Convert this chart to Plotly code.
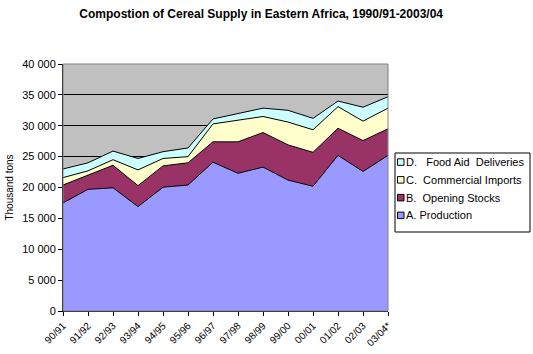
import plotly.graph_objects as go

categories = ["90/91", "91/92", "92/93", "93/94", "94/95", "95/96", "96/97",
              "97/98", "98/99", "99/00", "00/01", "01/02", "02/03", "03/04*"]

production = [17500, 19700, 19950, 16900, 20050, 20400, 24100,
              22300, 23300, 21200, 20200, 25200, 22600, 25200]
opening_stocks = [2900, 2300, 3650, 3400, 3450, 3600, 3300,
                  5100, 5600, 5700, 5500, 4400, 5000, 4300]
commercial_imports = [1200, 700, 900, 2550, 1200, 1000, 2900,
                      3500, 2600, 3700, 3650, 3500, 3150, 3350]
food_aid = [1400, 1300, 1400, 1850, 1100, 1400, 800,
            1100, 1350, 1900, 1850, 900, 2250, 1850]

series_names = ["A. Production", "B.  Opening Stocks",
                "C.  Commercial Imports", "D.   Food Aid  Deliveries"]
series_values = [production, opening_stocks, commercial_imports, food_aid]
series_colors = ["#9999FF", "#993366", "#FFFFCC", "#CCFFFF"]

font = "Liberation Sans, Arial, sans-serif"

W, H = 533, 354
L, R, T, B = 63, 145, 64, 43
pw, ph = W - L - R, H - T - B


def px(x):
    return (x - L) / pw


def py(y):
    return (H - B - y) / ph


fig = go.Figure()
for name, vals, color in zip(series_names, series_values, series_colors):
    fig.add_trace(go.Scatter(
        x=categories, y=vals, name=name, mode="lines",
        stackgroup="one", fillcolor=color,
        line=dict(color="black", width=1), showlegend=False,
    ))

shapes = [dict(type="rect", xref="paper", yref="paper", x0=0, x1=1, y0=0, y1=1,
               line=dict(color="#808080", width=1), layer="above")]
annotations = []

# custom legend box (Excel style)
shapes.append(dict(type="rect", xref="paper", yref="paper",
                   x0=px(395), x1=px(530), y0=py(232), y1=py(153),
                   line=dict(color="black", width=1), fillcolor="white", layer="above"))
item_y = [215.3, 197.6, 179.8, 162.0]  # A, B, C, D centres
for name, color, yc in zip(series_names, series_colors, item_y):
    shapes.append(dict(type="rect", xref="paper", yref="paper",
                       x0=px(397.5), x1=px(404), y0=py(yc + 3.3), y1=py(yc - 3.2),
                       line=dict(color="black", width=1), fillcolor=color, layer="above"))
    annotations.append(dict(text=name, xref="paper", yref="paper",
                            x=px(404.5), y=py(yc), xanchor="left", yanchor="middle",
                            showarrow=False, font=dict(family=font, size=11, color="black")))

fig.update_layout(
    width=W, height=H,
    margin=dict(l=L, r=R, t=T, b=B, autoexpand=False),
    paper_bgcolor="white",
    plot_bgcolor="#C0C0C0",
    separators=". ",
    title=dict(text="<b>Compostion of Cereal Supply in Eastern Africa, 1990/91-2003/04</b>",
               x=0.49, xanchor="center", y=0.962, yanchor="middle",
               font=dict(family=font, size=12, color="black")),
    font=dict(family=font, size=11, color="black"),
    showlegend=False,
    shapes=shapes,
    annotations=annotations,
)

fig.update_xaxes(
    type="category", range=[0, len(categories) - 1], automargin=False,
    showgrid=False, zeroline=False,
    showline=True, linecolor="black", linewidth=1,
    ticks="outside", ticklen=4, tickcolor="black",
    tickangle=-45, tickfont=dict(family=font, size=10),
)
fig.update_yaxes(
    range=[0, 40000], dtick=5000, tickformat=",d", automargin=False,
    showgrid=True, gridcolor="black", gridwidth=1, zeroline=False,
    showline=True, linecolor="black", linewidth=1,
    ticks="outside", ticklen=4, tickcolor="black",
    tickfont=dict(family=font, size=11),
    title=dict(text="Thousand tons", font=dict(family=font, size=10), standoff=6),
)

fig.write_html("out.html")
